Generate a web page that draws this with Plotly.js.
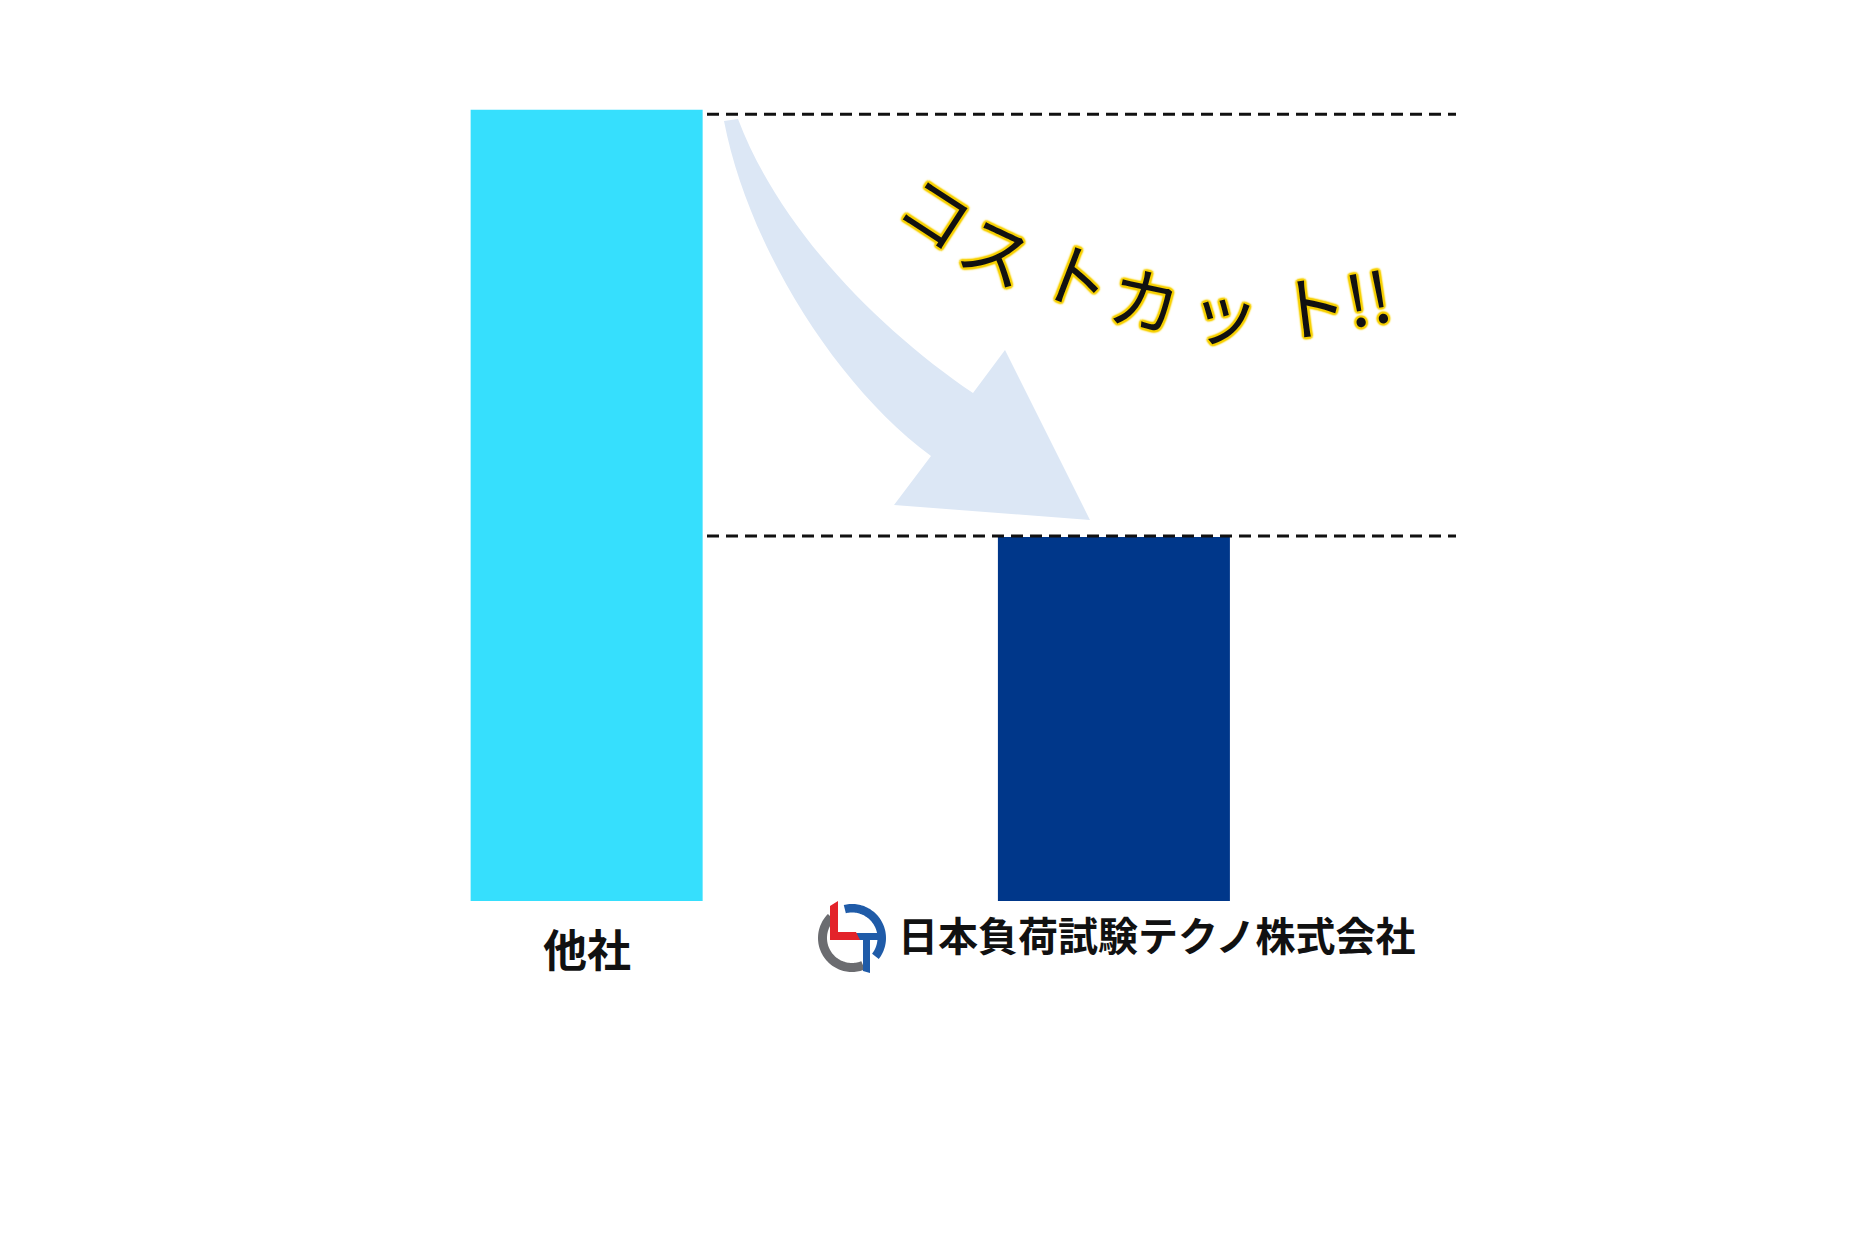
<!DOCTYPE html>
<html><head><meta charset="utf-8">
<script src="https://cdn.plot.ly/plotly-3.0.1.min.js"></script>
<style>html,body{margin:0;padding:0;background:#fff;}#chart{width:1876px;height:1250px;}</style>
</head><body><div id="chart"></div>
<script>
// ---- data ----
const categories = ['他社', '日本負荷試験テクノ株式会社'];
const costValues = [100, 46];
const barColors = ['#36DFFD', '#00378A'];
const calloutChars = ['コ', 'ス', 'ト', 'カ', 'ッ', 'ト', '!!'];

// ---- layout geometry ----
const W = 1876, H = 1250;
const M = {l: 323, r: 393, t: 94, b: 349};
const X_RANGE = [-0.5, 1.7], Y_RANGE = [0, 102];
const pw = W - M.l - M.r, ph = H - M.t - M.b;
const px2x = px => X_RANGE[0] + (px - M.l) / pw * (X_RANGE[1] - X_RANGE[0]);
const py2y = py => Y_RANGE[0] + (H - M.b - py) / ph * (Y_RANGE[1] - Y_RANGE[0]);
const px2p = px => (px - M.l) / pw;
const py2p = py => (H - M.b - py) / ph;
const dpt = (px, py) => px2x(px).toFixed(5) + ',' + py2y(py).toFixed(4);
const ppt = (px, py) => px2p(px).toFixed(5) + ',' + py2p(py).toFixed(5);
const pxPerUnitY = ph / (Y_RANGE[1] - Y_RANGE[0]);

const shapes = [];

// curved arrow (decoration)
const arrowPath = 'M' + dpt(724, 121) +
  ' C' + dpt(748, 245) + ' ' + dpt(835, 385) + ' ' + dpt(931, 456) +
  ' L' + dpt(894, 505) + ' L' + dpt(1090, 520) + ' L' + dpt(1005, 350) + ' L' + dpt(973, 393) +
  ' C' + dpt(880, 330) + ' ' + dpt(780, 230) + ' ' + dpt(738, 119) + ' Z';
shapes.push({type: 'path', xref: 'x', yref: 'y', path: arrowPath,
  fillcolor: '#DCE7F5', line: {width: 0}, layer: 'below'});

// dashed reference lines just under each bar level
const lineOffsetsPx = [4.5, -1];
costValues.forEach((v, i) => {
  const y = v - lineOffsetsPx[i] / pxPerUnitY;
  shapes.push({type: 'line', xref: 'x', yref: 'y', x0: px2x(707), x1: px2x(1456), y0: y, y1: y,
    line: {color: '#111111', width: 3, dash: '12px,7px'}});
});

// logo
function ringPath(cx, cy, r1, r2, a0, a1, n) {
  const pts = [];
  for (let i = 0; i <= n; i++) { const a = (a0 + (a1 - a0) * i / n) * Math.PI / 180; pts.push(ppt(cx + r2 * Math.cos(a), cy - r2 * Math.sin(a))); }
  for (let i = n; i >= 0; i--) { const a = (a0 + (a1 - a0) * i / n) * Math.PI / 180; pts.push(ppt(cx + r1 * Math.cos(a), cy - r1 * Math.sin(a))); }
  return 'M' + pts.join(' L') + ' Z';
}
function polyPath(pts) { return 'M' + pts.map(p => ppt(p[0], p[1])).join(' L') + ' Z'; }
const LC = [852, 938];
shapes.push({type: 'path', xref: 'paper', yref: 'paper', path: ringPath(LC[0], LC[1], 25, 34, 135, 292, 60), fillcolor: '#6B6C70', line: {width: 0}});
shapes.push({type: 'path', xref: 'paper', yref: 'paper', path: ringPath(LC[0], LC[1], 25.5, 34, 104, -38, 60), fillcolor: '#1F5BA8', line: {width: 0}});
shapes.push({type: 'path', xref: 'paper', yref: 'paper', path: polyPath([[863, 940], [870, 940], [870, 973], [863, 971]]), fillcolor: '#1F5BA8', line: {width: 0}});
shapes.push({type: 'path', xref: 'paper', yref: 'paper', path: polyPath([[854, 933], [878, 933], [878, 940], [854, 940]]), fillcolor: '#1F5BA8', line: {width: 0}});
shapes.push({type: 'path', xref: 'paper', yref: 'paper', path: polyPath([[830, 906], [838, 901], [838, 932], [856, 932], [860, 940], [830, 940]]), fillcolor: '#E3232A', line: {width: 0}});

// ---- annotations ----
const annotations = [];
annotations.push({x: 0, xref: 'x', y: py2p(948), yref: 'paper', text: categories[0], showarrow: false,
  xanchor: 'center', yanchor: 'middle', font: {family: 'Noto Sans CJK JP', size: 44, weight: 'bold', color: '#111111'}});
annotations.push({x: 1, xref: 'x', xshift: 43, y: py2p(934), yref: 'paper', text: categories[1], showarrow: false,
  xanchor: 'center', yanchor: 'middle', font: {family: 'Noto Sans CJK JP', size: 40, weight: 'bold', color: '#111111'}});

const calloutPos = [[938, 209, 33], [998, 248, 25], [1078, 273, 21], [1146, 296, 12], [1225, 309, 5], [1312, 303, -7], [1367, 294, -10]];
const glow = '#F7D000';
const shadow = [
  '2.2px 0 1.5px ' + glow, '-2.2px 0 1.5px ' + glow, '0 2.2px 1.5px ' + glow, '0 -2.2px 1.5px ' + glow,
  '1.6px 1.6px 1.5px ' + glow, '-1.6px 1.6px 1.5px ' + glow, '1.6px -1.6px 1.5px ' + glow, '-1.6px -1.6px 1.5px ' + glow,
  '0 0 4px ' + glow
].join(', ');
calloutChars.forEach((c, i) => {
  const p = calloutPos[i];
  annotations.push({x: px2p(p[0]), y: py2p(p[1]), xref: 'paper', yref: 'paper', text: c, showarrow: false,
    textangle: p[2], xanchor: 'center', yanchor: 'middle',
    font: {family: 'Noto Sans CJK JP', size: 70, color: '#111111', shadow: shadow}});
});

const trace = {type: 'bar', x: categories, y: costValues, marker: {color: barColors, line: {width: 0}}, hoverinfo: 'skip'};

const layout = {
  width: W, height: H, margin: M,
  paper_bgcolor: '#ffffff', plot_bgcolor: '#ffffff',
  showlegend: false, bargap: 0.56,
  xaxis: {type: 'category', range: X_RANGE, showticklabels: false, showgrid: false, zeroline: false, showline: false, ticks: ''},
  yaxis: {range: Y_RANGE, showticklabels: false, showgrid: false, zeroline: false, showline: false, ticks: ''},
  shapes: shapes, annotations: annotations
};
Plotly.newPlot('chart', [trace], layout, {staticPlot: true, displayModeBar: false});
</script>
</body></html>
